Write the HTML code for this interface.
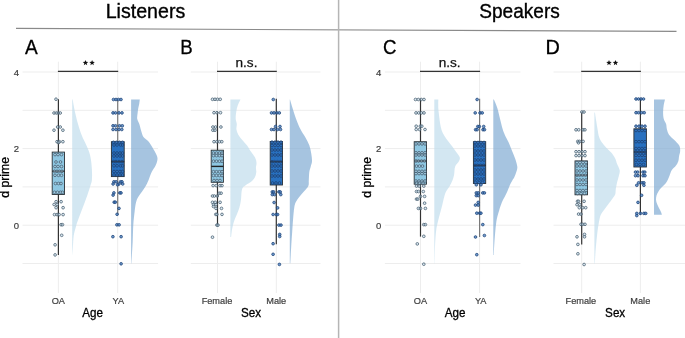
<!DOCTYPE html><html><head><meta charset="utf-8"><style>html,body{margin:0;padding:0;background:#fff;overflow:hidden;}svg{display:block;will-change:transform;}text{font-family:"Liberation Sans",sans-serif;}</style></head><body>
<svg width="685" height="338" viewBox="0 0 685 338">
<rect width="685" height="338" fill="#fff"/>
<line x1="22.5" x2="158.1" y1="72.0" y2="72.0" stroke="#ededed" stroke-width="1"/><line x1="22.5" x2="158.1" y1="110.3" y2="110.3" stroke="#ededed" stroke-width="1"/><line x1="22.5" x2="158.1" y1="148.6" y2="148.6" stroke="#ededed" stroke-width="1"/><line x1="22.5" x2="158.1" y1="186.9" y2="186.9" stroke="#ededed" stroke-width="1"/><line x1="22.5" x2="158.1" y1="225.2" y2="225.2" stroke="#ededed" stroke-width="1"/><line x1="22.5" x2="158.1" y1="263.5" y2="263.5" stroke="#ededed" stroke-width="1"/><line x1="58.4" x2="58.4" y1="61.7" y2="293" stroke="#ededed" stroke-width="1"/><line x1="117.7" x2="117.7" y1="61.7" y2="293" stroke="#ededed" stroke-width="1"/>
<line x1="190.8" x2="320.5" y1="72.0" y2="72.0" stroke="#ededed" stroke-width="1"/><line x1="190.8" x2="320.5" y1="110.3" y2="110.3" stroke="#ededed" stroke-width="1"/><line x1="190.8" x2="320.5" y1="148.6" y2="148.6" stroke="#ededed" stroke-width="1"/><line x1="190.8" x2="320.5" y1="186.9" y2="186.9" stroke="#ededed" stroke-width="1"/><line x1="190.8" x2="320.5" y1="225.2" y2="225.2" stroke="#ededed" stroke-width="1"/><line x1="190.8" x2="320.5" y1="263.5" y2="263.5" stroke="#ededed" stroke-width="1"/><line x1="217.5" x2="217.5" y1="61.7" y2="293" stroke="#ededed" stroke-width="1"/><line x1="276.3" x2="276.3" y1="61.7" y2="293" stroke="#ededed" stroke-width="1"/>
<line x1="384.9" x2="520.5" y1="72.0" y2="72.0" stroke="#ededed" stroke-width="1"/><line x1="384.9" x2="520.5" y1="110.3" y2="110.3" stroke="#ededed" stroke-width="1"/><line x1="384.9" x2="520.5" y1="148.6" y2="148.6" stroke="#ededed" stroke-width="1"/><line x1="384.9" x2="520.5" y1="186.9" y2="186.9" stroke="#ededed" stroke-width="1"/><line x1="384.9" x2="520.5" y1="225.2" y2="225.2" stroke="#ededed" stroke-width="1"/><line x1="384.9" x2="520.5" y1="263.5" y2="263.5" stroke="#ededed" stroke-width="1"/><line x1="420.5" x2="420.5" y1="61.7" y2="293" stroke="#ededed" stroke-width="1"/><line x1="479.6" x2="479.6" y1="61.7" y2="293" stroke="#ededed" stroke-width="1"/>
<line x1="553.5" x2="685" y1="72.0" y2="72.0" stroke="#ededed" stroke-width="1"/><line x1="553.5" x2="685" y1="110.3" y2="110.3" stroke="#ededed" stroke-width="1"/><line x1="553.5" x2="685" y1="148.6" y2="148.6" stroke="#ededed" stroke-width="1"/><line x1="553.5" x2="685" y1="186.9" y2="186.9" stroke="#ededed" stroke-width="1"/><line x1="553.5" x2="685" y1="225.2" y2="225.2" stroke="#ededed" stroke-width="1"/><line x1="553.5" x2="685" y1="263.5" y2="263.5" stroke="#ededed" stroke-width="1"/><line x1="581.7" x2="581.7" y1="61.7" y2="293" stroke="#ededed" stroke-width="1"/><line x1="640.4" x2="640.4" y1="61.7" y2="293" stroke="#ededed" stroke-width="1"/>
<path d="M72.20,99.50 L72.70,99.50 C72.88,100.58 73.37,103.70 73.80,106.00 C74.23,108.30 74.60,110.30 75.30,113.30 C76.00,116.30 76.97,120.43 78.00,124.00 C79.03,127.57 80.30,131.58 81.50,134.70 C82.70,137.82 84.00,140.03 85.20,142.70 C86.40,145.37 87.77,148.03 88.70,150.70 C89.63,153.37 90.27,155.60 90.80,158.70 C91.33,161.80 91.72,165.75 91.90,169.30 C92.08,172.85 92.17,177.22 91.90,180.00 C91.63,182.78 91.17,183.17 90.30,186.00 C89.43,188.83 87.98,193.33 86.70,197.00 C85.42,200.67 83.98,204.33 82.60,208.00 C81.22,211.67 79.55,215.77 78.40,219.00 C77.25,222.23 76.48,224.62 75.70,227.40 C74.92,230.18 74.17,232.48 73.70,235.70 C73.23,238.92 73.13,243.48 72.90,246.70 C72.67,249.92 72.40,253.62 72.30,255.00 L72.20,255.00Z" fill="#c0ddec" fill-opacity="0.7"/>
<path d="M131.10,99.60 L139.80,99.60 C139.70,100.33 139.45,102.60 139.20,104.00 C138.95,105.40 138.57,106.45 138.30,108.00 C138.03,109.55 137.78,111.52 137.60,113.30 C137.42,115.08 136.92,116.92 137.20,118.70 C137.48,120.48 138.58,121.78 139.30,124.00 C140.02,126.22 140.77,129.78 141.50,132.00 C142.23,134.22 142.57,135.75 143.70,137.30 C144.83,138.85 147.07,139.97 148.30,141.30 C149.53,142.63 149.87,143.30 151.10,145.30 C152.33,147.30 154.63,151.07 155.70,153.30 C156.77,155.53 157.50,156.70 157.50,158.70 C157.50,160.70 156.67,163.08 155.70,165.30 C154.73,167.52 152.92,169.47 151.70,172.00 C150.48,174.53 149.40,178.17 148.40,180.50 C147.40,182.83 146.75,184.15 145.70,186.00 C144.65,187.85 143.35,189.77 142.10,191.60 C140.85,193.43 139.22,195.17 138.20,197.00 C137.18,198.83 136.58,200.28 136.00,202.60 C135.42,204.92 135.15,207.22 134.70,210.90 C134.25,214.58 133.63,219.65 133.30,224.70 C132.97,229.75 132.93,236.15 132.70,241.20 C132.47,246.25 132.12,251.30 131.90,255.00 C131.68,258.70 131.48,262.00 131.40,263.40 L131.10,263.40Z" fill="#80abd3" fill-opacity="0.7"/>
<path d="M230.40,99.50 L240.50,99.50 C240.05,100.47 238.52,103.22 237.80,105.30 C237.08,107.38 236.55,109.77 236.20,112.00 C235.85,114.23 235.60,116.70 235.70,118.70 C235.80,120.70 236.68,122.23 236.80,124.00 C236.92,125.77 236.15,127.52 236.40,129.30 C236.65,131.08 237.32,132.92 238.30,134.70 C239.28,136.48 240.87,138.23 242.30,140.00 C243.73,141.77 245.57,143.52 246.90,145.30 C248.23,147.08 248.97,148.70 250.30,150.70 C251.63,152.70 253.87,155.30 254.90,157.30 C255.93,159.30 256.33,160.92 256.50,162.70 C256.67,164.48 255.93,166.45 255.90,168.00 C255.87,169.55 256.47,170.45 256.30,172.00 C256.13,173.55 255.67,175.75 254.90,177.30 C254.13,178.85 253.18,180.02 251.70,181.30 C250.22,182.58 247.47,183.98 246.00,185.00 C244.53,186.02 243.63,186.30 242.90,187.40 C242.17,188.50 241.92,189.53 241.60,191.60 C241.28,193.67 241.38,197.05 241.00,199.80 C240.62,202.55 240.03,205.57 239.30,208.10 C238.57,210.63 237.52,212.70 236.60,215.00 C235.68,217.30 234.58,219.37 233.80,221.90 C233.02,224.43 232.35,227.67 231.90,230.20 C231.45,232.73 231.23,235.95 231.10,237.10 L230.40,237.10Z" fill="#c0ddec" fill-opacity="0.7"/>
<path d="M289.80,99.50 L290.00,99.50 C290.42,100.92 291.50,104.80 292.50,108.00 C293.50,111.20 294.67,115.15 296.00,118.70 C297.33,122.25 298.95,126.20 300.50,129.30 C302.05,132.40 303.83,134.63 305.30,137.30 C306.77,139.97 308.32,142.63 309.30,145.30 C310.28,147.97 310.75,150.63 311.20,153.30 C311.65,155.97 312.08,159.07 312.00,161.30 C311.92,163.53 311.15,164.92 310.70,166.70 C310.25,168.48 309.62,169.70 309.30,172.00 C308.98,174.30 308.97,178.17 308.80,180.50 C308.63,182.83 309.12,184.15 308.30,186.00 C307.48,187.85 305.42,189.77 303.90,191.60 C302.38,193.43 300.58,195.17 299.20,197.00 C297.82,198.83 296.43,200.75 295.60,202.60 C294.77,204.45 294.62,205.35 294.20,208.10 C293.78,210.85 293.42,215.42 293.10,219.10 C292.78,222.78 292.62,225.60 292.30,230.20 C291.98,234.80 291.53,241.18 291.20,246.70 C290.87,252.22 290.45,260.53 290.30,263.30 L289.80,263.30Z" fill="#80abd3" fill-opacity="0.7"/>
<path d="M434.30,99.50 L438.30,99.50 C438.30,100.92 438.17,105.25 438.30,108.00 C438.43,110.75 438.78,113.33 439.10,116.00 C439.42,118.67 439.75,121.55 440.20,124.00 C440.65,126.45 441.08,128.70 441.80,130.70 C442.52,132.70 443.43,134.23 444.50,136.00 C445.57,137.77 446.87,139.52 448.20,141.30 C449.53,143.08 451.17,144.92 452.50,146.70 C453.83,148.48 455.00,150.23 456.20,152.00 C457.40,153.77 459.25,155.75 459.70,157.30 C460.15,158.85 459.67,159.73 458.90,161.30 C458.13,162.87 455.90,164.47 455.10,166.70 C454.30,168.93 454.55,172.40 454.10,174.70 C453.65,177.00 453.13,178.62 452.40,180.50 C451.67,182.38 450.75,184.15 449.70,186.00 C448.65,187.85 447.02,189.77 446.10,191.60 C445.18,193.43 444.85,194.72 444.20,197.00 C443.55,199.28 442.90,202.53 442.20,205.30 C441.50,208.07 440.73,210.83 440.00,213.60 C439.27,216.37 438.43,219.13 437.80,221.90 C437.17,224.67 436.65,226.52 436.20,230.20 C435.75,233.88 435.38,238.48 435.10,244.00 C434.82,249.52 434.60,260.08 434.50,263.30 L434.30,263.30Z" fill="#c0ddec" fill-opacity="0.7"/>
<path d="M493.30,99.50 L493.90,99.50 C494.47,100.92 496.28,104.80 497.30,108.00 C498.32,111.20 499.10,115.15 500.00,118.70 C500.90,122.25 501.82,126.42 502.70,129.30 C503.58,132.18 504.28,133.77 505.30,136.00 C506.32,138.23 507.68,140.25 508.80,142.70 C509.92,145.15 510.93,148.03 512.00,150.70 C513.07,153.37 514.32,156.03 515.20,158.70 C516.08,161.37 517.12,164.48 517.30,166.70 C517.48,168.92 516.80,170.23 516.30,172.00 C515.80,173.77 514.97,175.88 514.30,177.30 C513.63,178.72 513.10,179.05 512.30,180.50 C511.50,181.95 510.33,184.15 509.50,186.00 C508.67,187.85 508.12,189.77 507.30,191.60 C506.48,193.43 505.52,195.17 504.60,197.00 C503.68,198.83 502.73,200.28 501.80,202.60 C500.87,204.92 499.83,208.15 499.00,210.90 C498.17,213.65 497.40,215.88 496.80,219.10 C496.20,222.32 495.82,226.05 495.40,230.20 C494.98,234.35 494.57,239.87 494.30,244.00 C494.03,248.13 493.88,253.17 493.80,255.00 L493.30,255.00Z" fill="#80abd3" fill-opacity="0.7"/>
<path d="M594.40,112.50 L594.90,112.50 C595.12,113.92 595.77,118.25 596.20,121.00 C596.63,123.75 597.02,126.33 597.50,129.00 C597.98,131.67 598.38,134.78 599.10,137.00 C599.82,139.22 600.60,140.52 601.80,142.30 C603.00,144.08 604.65,145.92 606.30,147.70 C607.95,149.48 610.23,151.23 611.70,153.00 C613.17,154.77 614.22,156.52 615.10,158.30 C615.98,160.08 616.23,161.70 617.00,163.70 C617.77,165.70 619.38,168.30 619.70,170.30 C620.02,172.30 619.33,173.70 618.90,175.70 C618.47,177.70 617.62,180.08 617.10,182.30 C616.58,184.52 616.12,186.95 615.80,189.00 C615.48,191.05 615.77,192.98 615.20,194.60 C614.63,196.22 613.55,197.10 612.40,198.70 C611.25,200.30 609.67,202.37 608.30,204.20 C606.93,206.03 605.48,207.87 604.20,209.70 C602.92,211.53 601.52,212.90 600.60,215.20 C599.68,217.50 599.25,220.50 598.70,223.50 C598.15,226.50 597.77,229.28 597.30,233.20 C596.83,237.12 596.27,242.87 595.90,247.00 C595.53,251.13 595.28,255.25 595.10,258.00 C594.92,260.75 594.85,262.58 594.80,263.50 L594.40,263.50Z" fill="#c0ddec" fill-opacity="0.7"/>
<path d="M654.00,99.50 L665.00,99.50 C664.78,100.47 664.02,103.22 663.70,105.30 C663.38,107.38 663.10,109.77 663.10,112.00 C663.10,114.23 663.20,116.70 663.70,118.70 C664.20,120.70 665.57,122.23 666.10,124.00 C666.63,125.77 666.42,127.52 666.90,129.30 C667.38,131.08 667.77,132.92 669.00,134.70 C670.23,136.48 672.62,138.23 674.30,140.00 C675.98,141.77 678.12,143.52 679.10,145.30 C680.08,147.08 680.20,148.92 680.20,150.70 C680.20,152.48 679.42,154.23 679.10,156.00 C678.78,157.77 678.82,159.72 678.30,161.30 C677.78,162.88 677.10,164.00 676.00,165.50 C674.90,167.00 672.78,168.60 671.70,170.30 C670.62,172.00 670.25,173.92 669.50,175.70 C668.75,177.48 668.02,179.52 667.20,181.00 C666.38,182.48 665.63,183.42 664.60,184.60 C663.57,185.78 662.05,186.92 661.00,188.10 C659.95,189.28 659.03,190.52 658.30,191.70 C657.57,192.88 656.98,193.87 656.60,195.20 C656.22,196.53 655.92,198.22 656.00,199.70 C656.08,201.18 656.57,202.62 657.10,204.10 C657.63,205.58 658.55,207.27 659.20,208.60 C659.85,209.93 660.55,211.07 661.00,212.10 C661.45,213.13 661.75,214.35 661.90,214.80 L654.00,214.80Z" fill="#80abd3" fill-opacity="0.7"/>
<line x1="58.4" x2="58.4" y1="99.2" y2="254.9" stroke="#333" stroke-width="1.2"/>
<rect x="52.2" y="152.1" width="12.3" height="42.4" fill="#8ec7e2" stroke="#2a3035" stroke-width="0.9"/>
<line x1="52.2" x2="64.5" y1="171.3" y2="171.3" stroke="#222" stroke-width="1.4"/>
<line x1="117.7" x2="117.7" y1="98.8" y2="214.8" stroke="#7a7a7a" stroke-width="1.2"/>
<rect x="111.4" y="141.7" width="12.8" height="34.9" fill="#2870bf" stroke="#2a3035" stroke-width="0.9"/>
<line x1="111.4" x2="124.2" y1="161.6" y2="161.6" stroke="#222" stroke-width="1.4"/>
<line x1="217.5" x2="217.5" y1="112.0" y2="225.2" stroke="#333" stroke-width="1.2"/>
<rect x="211.2" y="150.2" width="12.2" height="32.1" fill="#8ec7e2" stroke="#2a3035" stroke-width="0.9"/>
<line x1="211.2" x2="223.4" y1="166.4" y2="166.4" stroke="#222" stroke-width="1.4"/>
<line x1="276.3" x2="276.3" y1="98.8" y2="244.3" stroke="#333" stroke-width="1.2"/>
<rect x="270.2" y="141.5" width="12.3" height="43.5" fill="#2870bf" stroke="#2a3035" stroke-width="0.9"/>
<line x1="270.2" x2="282.5" y1="161.7" y2="161.7" stroke="#222" stroke-width="1.4"/>
<line x1="420.5" x2="420.5" y1="98.8" y2="236.6" stroke="#333" stroke-width="1.2"/>
<rect x="414.2" y="141.7" width="12.3" height="42.5" fill="#8ec7e2" stroke="#2a3035" stroke-width="0.9"/>
<line x1="414.2" x2="426.5" y1="161.0" y2="161.0" stroke="#222" stroke-width="1.4"/>
<line x1="479.6" x2="479.6" y1="98.8" y2="237.0" stroke="#7a7a7a" stroke-width="1.2"/>
<rect x="473.4" y="141.7" width="12.3" height="41.8" fill="#2870bf" stroke="#2a3035" stroke-width="0.9"/>
<line x1="473.4" x2="485.7" y1="165.4" y2="165.4" stroke="#222" stroke-width="1.4"/>
<line x1="581.7" x2="581.7" y1="112.2" y2="244.6" stroke="#333" stroke-width="1.2"/>
<rect x="575.0" y="160.9" width="12.5" height="33.9" fill="#8ec7e2" stroke="#2a3035" stroke-width="0.9"/>
<line x1="575.0" x2="587.5" y1="175.2" y2="175.2" stroke="#222" stroke-width="1.4"/>
<line x1="640.4" x2="640.4" y1="98.8" y2="214.8" stroke="#333" stroke-width="1.2"/>
<rect x="633.9" y="128.8" width="12.5" height="38.2" fill="#2870bf" stroke="#2a3035" stroke-width="0.9"/>
<line x1="633.9" x2="646.4" y1="152.0" y2="152.0" stroke="#222" stroke-width="1.4"/>
<g fill="#b9d6e8" fill-opacity="0.5" stroke="#465c6e" stroke-width="0.75"><circle cx="56.0" cy="99.2" r="1.35"/><circle cx="54.0" cy="113" r="1.35"/><circle cx="56.3" cy="113" r="1.35"/><circle cx="58.3" cy="113" r="1.35"/><circle cx="60.2" cy="113" r="1.35"/><circle cx="57.6" cy="127" r="1.35"/><circle cx="60.2" cy="127" r="1.35"/><circle cx="54.0" cy="130.2" r="1.35"/><circle cx="62.9" cy="130.2" r="1.35"/><circle cx="57.0" cy="141.7" r="1.35"/><circle cx="59.4" cy="141.7" r="1.35"/><circle cx="62.9" cy="141.7" r="1.35"/><circle cx="58.5" cy="142.6" r="1.35"/><circle cx="55" cy="154.6" r="1.35"/><circle cx="58" cy="154.6" r="1.35"/><circle cx="61.5" cy="154.6" r="1.35"/><circle cx="56" cy="162" r="1.35"/><circle cx="60.5" cy="162" r="1.35"/><circle cx="55" cy="166.5" r="1.35"/><circle cx="58" cy="166.5" r="1.35"/><circle cx="61.5" cy="166.5" r="1.35"/><circle cx="54.5" cy="171.3" r="1.35"/><circle cx="57" cy="171.3" r="1.35"/><circle cx="59.5" cy="171.3" r="1.35"/><circle cx="62" cy="171.3" r="1.35"/><circle cx="55" cy="175.3" r="1.35"/><circle cx="58.5" cy="175.3" r="1.35"/><circle cx="61.5" cy="175.3" r="1.35"/><circle cx="55.5" cy="183.5" r="1.35"/><circle cx="58.5" cy="183.5" r="1.35"/><circle cx="61" cy="183.5" r="1.35"/><circle cx="54.5" cy="192.3" r="1.35"/><circle cx="57.5" cy="192.3" r="1.35"/><circle cx="60.5" cy="192.3" r="1.35"/><circle cx="62.5" cy="192.3" r="1.35"/><circle cx="56.1" cy="201.7" r="1.35"/><circle cx="61.1" cy="201.7" r="1.35"/><circle cx="54.1" cy="204.5" r="1.35"/><circle cx="57.1" cy="204.5" r="1.35"/><circle cx="56.1" cy="207.7" r="1.35"/><circle cx="63.1" cy="207.7" r="1.35"/><circle cx="54.5" cy="214.6" r="1.35"/><circle cx="57.1" cy="214.6" r="1.35"/><circle cx="59.1" cy="214.6" r="1.35"/><circle cx="63.1" cy="214.6" r="1.35"/><circle cx="61.1" cy="224.7" r="1.35"/><circle cx="62.5" cy="224.7" r="1.35"/><circle cx="61.7" cy="235.3" r="1.35"/><circle cx="55.1" cy="244.8" r="1.35"/><circle cx="55.1" cy="254.9" r="1.35"/></g>
<g fill="#3f78bd" fill-opacity="0.75" stroke="#1c4274" stroke-width="0.75"><circle cx="113.5" cy="99.5" r="1.35"/><circle cx="116" cy="99.5" r="1.35"/><circle cx="118.5" cy="99.5" r="1.35"/><circle cx="121" cy="99.5" r="1.35"/><circle cx="113" cy="112.9" r="1.35"/><circle cx="115.5" cy="112.9" r="1.35"/><circle cx="119" cy="112.9" r="1.35"/><circle cx="122" cy="112.9" r="1.35"/><circle cx="113" cy="125.8" r="1.35"/><circle cx="115.5" cy="125.8" r="1.35"/><circle cx="119.5" cy="125.8" r="1.35"/><circle cx="122.3" cy="125.8" r="1.35"/><circle cx="113" cy="129.5" r="1.35"/><circle cx="116" cy="129.5" r="1.35"/><circle cx="119" cy="129.5" r="1.35"/><circle cx="121.8" cy="129.5" r="1.35"/><circle cx="113.5" cy="142.3" r="1.35"/><circle cx="116.5" cy="142.3" r="1.35"/><circle cx="119.5" cy="142.3" r="1.35"/><circle cx="122.5" cy="142.3" r="1.35"/><circle cx="114" cy="145" r="1.35" fill-opacity="0.35"/><circle cx="117" cy="145" r="1.35" fill-opacity="0.35"/><circle cx="120.5" cy="145" r="1.35" fill-opacity="0.35"/><circle cx="122.5" cy="145" r="1.35" fill-opacity="0.35"/><circle cx="114" cy="153" r="1.35" fill-opacity="0.35"/><circle cx="117" cy="153" r="1.35" fill-opacity="0.35"/><circle cx="120" cy="153" r="1.35" fill-opacity="0.35"/><circle cx="122.5" cy="153" r="1.35" fill-opacity="0.35"/><circle cx="114" cy="156" r="1.35" fill-opacity="0.35"/><circle cx="117" cy="156" r="1.35" fill-opacity="0.35"/><circle cx="120" cy="156" r="1.35" fill-opacity="0.35"/><circle cx="122.5" cy="156" r="1.35" fill-opacity="0.35"/><circle cx="113.5" cy="161.6" r="1.35" fill-opacity="0.35"/><circle cx="116" cy="161.6" r="1.35" fill-opacity="0.35"/><circle cx="119" cy="161.6" r="1.35" fill-opacity="0.35"/><circle cx="122" cy="161.6" r="1.35" fill-opacity="0.35"/><circle cx="114" cy="165.8" r="1.35" fill-opacity="0.35"/><circle cx="117" cy="165.8" r="1.35" fill-opacity="0.35"/><circle cx="120.5" cy="165.8" r="1.35" fill-opacity="0.35"/><circle cx="122.5" cy="165.8" r="1.35" fill-opacity="0.35"/><circle cx="114" cy="171.5" r="1.35" fill-opacity="0.35"/><circle cx="117" cy="171.5" r="1.35" fill-opacity="0.35"/><circle cx="120" cy="171.5" r="1.35" fill-opacity="0.35"/><circle cx="122.5" cy="171.5" r="1.35" fill-opacity="0.35"/><circle cx="114" cy="175" r="1.35" fill-opacity="0.35"/><circle cx="117" cy="175" r="1.35" fill-opacity="0.35"/><circle cx="120" cy="175" r="1.35" fill-opacity="0.35"/><circle cx="122.5" cy="175" r="1.35" fill-opacity="0.35"/><circle cx="113.9" cy="181.8" r="1.35"/><circle cx="116.1" cy="181.8" r="1.35"/><circle cx="120.5" cy="181.8" r="1.35"/><circle cx="122" cy="181.8" r="1.35"/><circle cx="113.1" cy="184" r="1.35"/><circle cx="119" cy="184" r="1.35"/><circle cx="122.7" cy="184" r="1.35"/><circle cx="117.5" cy="184.8" r="1.35"/><circle cx="113.9" cy="192.9" r="1.35"/><circle cx="119.8" cy="192.9" r="1.35"/><circle cx="121" cy="192.9" r="1.35"/><circle cx="113.1" cy="195.1" r="1.35"/><circle cx="114.2" cy="202.2" r="1.35"/><circle cx="115.3" cy="202.2" r="1.35"/><circle cx="119" cy="208.4" r="1.35"/><circle cx="117.1" cy="214.3" r="1.35"/><circle cx="116.9" cy="224.8" r="1.35"/><circle cx="119.1" cy="224.8" r="1.35"/><circle cx="112.9" cy="236.7" r="1.35"/><circle cx="121.1" cy="236.7" r="1.35"/><circle cx="121.1" cy="263.8" r="1.35"/></g>
<g fill="#b9d6e8" fill-opacity="0.5" stroke="#465c6e" stroke-width="0.75"><circle cx="212.5" cy="99.3" r="1.35"/><circle cx="215" cy="99.3" r="1.35"/><circle cx="217.5" cy="99.3" r="1.35"/><circle cx="220.2" cy="99.3" r="1.35"/><circle cx="214" cy="112.7" r="1.35"/><circle cx="217" cy="112.7" r="1.35"/><circle cx="220.5" cy="112.7" r="1.35"/><circle cx="212.9" cy="127" r="1.35"/><circle cx="215.6" cy="127" r="1.35"/><circle cx="220.9" cy="127" r="1.35"/><circle cx="212.9" cy="130.2" r="1.35"/><circle cx="215" cy="130.2" r="1.35"/><circle cx="214" cy="141.7" r="1.35"/><circle cx="216.8" cy="141.7" r="1.35"/><circle cx="219.5" cy="141.7" r="1.35"/><circle cx="221.8" cy="141.7" r="1.35"/><circle cx="213.5" cy="153.1" r="1.35"/><circle cx="216.5" cy="153.1" r="1.35"/><circle cx="219.5" cy="153.1" r="1.35"/><circle cx="222" cy="153.1" r="1.35"/><circle cx="213.5" cy="155.6" r="1.35"/><circle cx="216.5" cy="155.6" r="1.35"/><circle cx="219.5" cy="155.6" r="1.35"/><circle cx="222" cy="155.6" r="1.35"/><circle cx="213.5" cy="161.2" r="1.35"/><circle cx="216.5" cy="161.2" r="1.35"/><circle cx="219.5" cy="161.2" r="1.35"/><circle cx="222" cy="161.2" r="1.35"/><circle cx="213.5" cy="171.7" r="1.35"/><circle cx="216.5" cy="171.7" r="1.35"/><circle cx="219.5" cy="171.7" r="1.35"/><circle cx="222" cy="171.7" r="1.35"/><circle cx="213.5" cy="175.5" r="1.35"/><circle cx="216.5" cy="175.5" r="1.35"/><circle cx="219.5" cy="175.5" r="1.35"/><circle cx="222" cy="175.5" r="1.35"/><circle cx="214" cy="180.5" r="1.35"/><circle cx="217" cy="180.5" r="1.35"/><circle cx="220" cy="180.5" r="1.35"/><circle cx="213.1" cy="185.6" r="1.35"/><circle cx="216.3" cy="185.6" r="1.35"/><circle cx="220.1" cy="185.6" r="1.35"/><circle cx="222" cy="185.6" r="1.35"/><circle cx="219.2" cy="193.2" r="1.35"/><circle cx="221.1" cy="193.2" r="1.35"/><circle cx="212.5" cy="196" r="1.35"/><circle cx="214.4" cy="196" r="1.35"/><circle cx="217.3" cy="196" r="1.35"/><circle cx="212.5" cy="202.3" r="1.35"/><circle cx="215.2" cy="202.3" r="1.35"/><circle cx="220.1" cy="202.3" r="1.35"/><circle cx="213.5" cy="204.6" r="1.35"/><circle cx="216" cy="204.6" r="1.35"/><circle cx="213.5" cy="206.5" r="1.35"/><circle cx="216" cy="208.4" r="1.35"/><circle cx="221.5" cy="208.4" r="1.35"/><circle cx="215.8" cy="214.4" r="1.35"/><circle cx="216.9" cy="214.4" r="1.35"/><circle cx="222" cy="214.4" r="1.35"/><circle cx="216.9" cy="225.1" r="1.35"/><circle cx="218" cy="225.1" r="1.35"/><circle cx="212.5" cy="237.2" r="1.35"/></g>
<g fill="#3f78bd" fill-opacity="0.75" stroke="#1c4274" stroke-width="0.75"><circle cx="273.3" cy="99.5" r="1.35"/><circle cx="271.5" cy="112.9" r="1.35"/><circle cx="274" cy="112.9" r="1.35"/><circle cx="276.8" cy="112.9" r="1.35"/><circle cx="279.3" cy="112.9" r="1.35"/><circle cx="275.6" cy="126.5" r="1.35"/><circle cx="280" cy="126.5" r="1.35"/><circle cx="271.5" cy="129.5" r="1.35"/><circle cx="274" cy="129.5" r="1.35"/><circle cx="277.5" cy="129.5" r="1.35"/><circle cx="280.5" cy="129.5" r="1.35"/><circle cx="272" cy="142.2" r="1.35"/><circle cx="275" cy="142.2" r="1.35"/><circle cx="278" cy="142.2" r="1.35"/><circle cx="281" cy="142.2" r="1.35"/><circle cx="272" cy="145.5" r="1.35" fill-opacity="0.35"/><circle cx="275" cy="145.5" r="1.35" fill-opacity="0.35"/><circle cx="278" cy="145.5" r="1.35" fill-opacity="0.35"/><circle cx="281" cy="145.5" r="1.35" fill-opacity="0.35"/><circle cx="272" cy="150" r="1.35" fill-opacity="0.35"/><circle cx="275" cy="150" r="1.35" fill-opacity="0.35"/><circle cx="278" cy="150" r="1.35" fill-opacity="0.35"/><circle cx="281" cy="150" r="1.35" fill-opacity="0.35"/><circle cx="272" cy="155" r="1.35" fill-opacity="0.35"/><circle cx="275" cy="155" r="1.35" fill-opacity="0.35"/><circle cx="278" cy="155" r="1.35" fill-opacity="0.35"/><circle cx="281" cy="155" r="1.35" fill-opacity="0.35"/><circle cx="272" cy="161.7" r="1.35" fill-opacity="0.35"/><circle cx="274.5" cy="161.7" r="1.35" fill-opacity="0.35"/><circle cx="277.5" cy="161.7" r="1.35" fill-opacity="0.35"/><circle cx="280.5" cy="161.7" r="1.35" fill-opacity="0.35"/><circle cx="272" cy="166" r="1.35" fill-opacity="0.35"/><circle cx="275" cy="166" r="1.35" fill-opacity="0.35"/><circle cx="278" cy="166" r="1.35" fill-opacity="0.35"/><circle cx="281" cy="166" r="1.35" fill-opacity="0.35"/><circle cx="272" cy="171" r="1.35" fill-opacity="0.35"/><circle cx="275" cy="171" r="1.35" fill-opacity="0.35"/><circle cx="278" cy="171" r="1.35" fill-opacity="0.35"/><circle cx="281" cy="171" r="1.35" fill-opacity="0.35"/><circle cx="272" cy="176" r="1.35" fill-opacity="0.35"/><circle cx="275" cy="176" r="1.35" fill-opacity="0.35"/><circle cx="278" cy="176" r="1.35" fill-opacity="0.35"/><circle cx="281" cy="176" r="1.35" fill-opacity="0.35"/><circle cx="272.5" cy="183" r="1.35" fill-opacity="0.35"/><circle cx="276" cy="183" r="1.35" fill-opacity="0.35"/><circle cx="279.5" cy="183" r="1.35" fill-opacity="0.35"/><circle cx="272.3" cy="191.9" r="1.35"/><circle cx="273.6" cy="191.9" r="1.35"/><circle cx="278.9" cy="191.9" r="1.35"/><circle cx="280.2" cy="191.9" r="1.35"/><circle cx="272.3" cy="194.6" r="1.35"/><circle cx="274.5" cy="194.6" r="1.35"/><circle cx="280.8" cy="194.6" r="1.35"/><circle cx="274.1" cy="202.5" r="1.35"/><circle cx="277.6" cy="207.9" r="1.35"/><circle cx="273.1" cy="214.5" r="1.35"/><circle cx="276.3" cy="214.5" r="1.35"/><circle cx="277.6" cy="214.5" r="1.35"/><circle cx="278.9" cy="225.1" r="1.35"/><circle cx="281" cy="225.1" r="1.35"/><circle cx="279.7" cy="234.4" r="1.35"/><circle cx="279.7" cy="236.5" r="1.35"/><circle cx="273.1" cy="243.7" r="1.35"/><circle cx="273.1" cy="254.3" r="1.35"/><circle cx="279.4" cy="264.4" r="1.35"/></g>
<g fill="#b9d6e8" fill-opacity="0.5" stroke="#465c6e" stroke-width="0.75"><circle cx="415.5" cy="99.5" r="1.35"/><circle cx="418.3" cy="99.5" r="1.35"/><circle cx="421.2" cy="99.5" r="1.35"/><circle cx="424" cy="99.5" r="1.35"/><circle cx="416" cy="112.9" r="1.35"/><circle cx="418.7" cy="112.9" r="1.35"/><circle cx="421.4" cy="112.9" r="1.35"/><circle cx="424" cy="112.9" r="1.35"/><circle cx="416.2" cy="126.2" r="1.35"/><circle cx="420.3" cy="126.2" r="1.35"/><circle cx="421.8" cy="126.2" r="1.35"/><circle cx="416.2" cy="129.5" r="1.35"/><circle cx="419.6" cy="129.5" r="1.35"/><circle cx="425" cy="129.5" r="1.35"/><circle cx="416" cy="143.9" r="1.35"/><circle cx="419" cy="143.9" r="1.35"/><circle cx="422" cy="143.9" r="1.35"/><circle cx="425" cy="143.9" r="1.35"/><circle cx="416" cy="152.8" r="1.35"/><circle cx="419" cy="152.8" r="1.35"/><circle cx="422" cy="152.8" r="1.35"/><circle cx="425" cy="152.8" r="1.35"/><circle cx="416" cy="155" r="1.35"/><circle cx="419" cy="155" r="1.35"/><circle cx="422" cy="155" r="1.35"/><circle cx="425" cy="155" r="1.35"/><circle cx="416" cy="161" r="1.35"/><circle cx="418.5" cy="161" r="1.35"/><circle cx="421.5" cy="161" r="1.35"/><circle cx="424.5" cy="161" r="1.35"/><circle cx="416.5" cy="166.1" r="1.35"/><circle cx="419.5" cy="166.1" r="1.35"/><circle cx="422.5" cy="166.1" r="1.35"/><circle cx="416" cy="171.3" r="1.35"/><circle cx="419" cy="171.3" r="1.35"/><circle cx="422" cy="171.3" r="1.35"/><circle cx="425" cy="171.3" r="1.35"/><circle cx="416" cy="173.6" r="1.35"/><circle cx="419" cy="173.6" r="1.35"/><circle cx="422" cy="173.6" r="1.35"/><circle cx="425" cy="173.6" r="1.35"/><circle cx="416" cy="181" r="1.35"/><circle cx="419" cy="181" r="1.35"/><circle cx="422" cy="181" r="1.35"/><circle cx="425" cy="181" r="1.35"/><circle cx="416.5" cy="183.2" r="1.35"/><circle cx="419.5" cy="183.2" r="1.35"/><circle cx="423" cy="183.2" r="1.35"/><circle cx="416.5" cy="186.1" r="1.35"/><circle cx="419.2" cy="186.1" r="1.35"/><circle cx="423.8" cy="186.1" r="1.35"/><circle cx="416.5" cy="191.5" r="1.35"/><circle cx="418.4" cy="191.5" r="1.35"/><circle cx="423.3" cy="191.5" r="1.35"/><circle cx="420.5" cy="196.4" r="1.35"/><circle cx="424.6" cy="196.4" r="1.35"/><circle cx="416.5" cy="199.1" r="1.35"/><circle cx="417.8" cy="199.1" r="1.35"/><circle cx="424.6" cy="203.2" r="1.35"/><circle cx="418.4" cy="208.4" r="1.35"/><circle cx="420.5" cy="208.4" r="1.35"/><circle cx="425.4" cy="208.4" r="1.35"/><circle cx="423.8" cy="224.6" r="1.35"/><circle cx="425.4" cy="224.6" r="1.35"/><circle cx="423.8" cy="236.3" r="1.35"/><circle cx="417.3" cy="243.9" r="1.35"/><circle cx="423.8" cy="264.2" r="1.35"/></g>
<g fill="#3f78bd" fill-opacity="0.75" stroke="#1c4274" stroke-width="0.75"><circle cx="477.1" cy="99.5" r="1.35"/><circle cx="475.2" cy="112.9" r="1.35"/><circle cx="480" cy="112.9" r="1.35"/><circle cx="482.2" cy="112.9" r="1.35"/><circle cx="477.8" cy="126.5" r="1.35"/><circle cx="479.3" cy="126.5" r="1.35"/><circle cx="483.7" cy="126.5" r="1.35"/><circle cx="475.6" cy="129.7" r="1.35"/><circle cx="477.1" cy="129.7" r="1.35"/><circle cx="483" cy="129.7" r="1.35"/><circle cx="484.5" cy="129.7" r="1.35"/><circle cx="475" cy="142.5" r="1.35"/><circle cx="478" cy="142.5" r="1.35"/><circle cx="481" cy="142.5" r="1.35"/><circle cx="484" cy="142.5" r="1.35"/><circle cx="475" cy="146" r="1.35" fill-opacity="0.35"/><circle cx="478" cy="146" r="1.35" fill-opacity="0.35"/><circle cx="481" cy="146" r="1.35" fill-opacity="0.35"/><circle cx="484" cy="146" r="1.35" fill-opacity="0.35"/><circle cx="475" cy="151" r="1.35" fill-opacity="0.35"/><circle cx="478" cy="151" r="1.35" fill-opacity="0.35"/><circle cx="481" cy="151" r="1.35" fill-opacity="0.35"/><circle cx="484" cy="151" r="1.35" fill-opacity="0.35"/><circle cx="475" cy="155" r="1.35" fill-opacity="0.35"/><circle cx="478" cy="155" r="1.35" fill-opacity="0.35"/><circle cx="481" cy="155" r="1.35" fill-opacity="0.35"/><circle cx="484" cy="155" r="1.35" fill-opacity="0.35"/><circle cx="475" cy="160" r="1.35" fill-opacity="0.35"/><circle cx="478" cy="160" r="1.35" fill-opacity="0.35"/><circle cx="481" cy="160" r="1.35" fill-opacity="0.35"/><circle cx="484" cy="160" r="1.35" fill-opacity="0.35"/><circle cx="475" cy="165.4" r="1.35" fill-opacity="0.35"/><circle cx="477.5" cy="165.4" r="1.35" fill-opacity="0.35"/><circle cx="480.5" cy="165.4" r="1.35" fill-opacity="0.35"/><circle cx="483.5" cy="165.4" r="1.35" fill-opacity="0.35"/><circle cx="475" cy="170" r="1.35" fill-opacity="0.35"/><circle cx="478" cy="170" r="1.35" fill-opacity="0.35"/><circle cx="481" cy="170" r="1.35" fill-opacity="0.35"/><circle cx="484" cy="170" r="1.35" fill-opacity="0.35"/><circle cx="475" cy="174" r="1.35" fill-opacity="0.35"/><circle cx="478" cy="174" r="1.35" fill-opacity="0.35"/><circle cx="481" cy="174" r="1.35" fill-opacity="0.35"/><circle cx="484" cy="174" r="1.35" fill-opacity="0.35"/><circle cx="475" cy="179" r="1.35" fill-opacity="0.35"/><circle cx="478" cy="179" r="1.35" fill-opacity="0.35"/><circle cx="481" cy="179" r="1.35" fill-opacity="0.35"/><circle cx="484" cy="179" r="1.35" fill-opacity="0.35"/><circle cx="475.5" cy="182.5" r="1.35"/><circle cx="479" cy="182.5" r="1.35"/><circle cx="482.5" cy="182.5" r="1.35"/><circle cx="476.3" cy="184.8" r="1.35"/><circle cx="480.9" cy="184.8" r="1.35"/><circle cx="476.3" cy="192.9" r="1.35"/><circle cx="478.2" cy="192.9" r="1.35"/><circle cx="482.8" cy="192.9" r="1.35"/><circle cx="484.4" cy="192.9" r="1.35"/><circle cx="476.3" cy="195.6" r="1.35"/><circle cx="478.2" cy="195.6" r="1.35"/><circle cx="478.2" cy="202.4" r="1.35"/><circle cx="475.5" cy="205.1" r="1.35"/><circle cx="478.2" cy="205.1" r="1.35"/><circle cx="476.8" cy="213.2" r="1.35"/><circle cx="479.6" cy="213.2" r="1.35"/><circle cx="480.9" cy="213.2" r="1.35"/><circle cx="482.8" cy="224.6" r="1.35"/><circle cx="484.4" cy="235.5" r="1.35"/><circle cx="475.5" cy="237" r="1.35"/><circle cx="476.8" cy="254.7" r="1.35"/></g>
<g fill="#b9d6e8" fill-opacity="0.5" stroke="#465c6e" stroke-width="0.75"><circle cx="581.9" cy="112" r="1.35"/><circle cx="584" cy="112" r="1.35"/><circle cx="576" cy="129.8" r="1.35"/><circle cx="578.7" cy="129.8" r="1.35"/><circle cx="583.1" cy="129.8" r="1.35"/><circle cx="584.9" cy="129.8" r="1.35"/><circle cx="577.8" cy="141.4" r="1.35"/><circle cx="579.6" cy="141.4" r="1.35"/><circle cx="583.1" cy="141.4" r="1.35"/><circle cx="578.5" cy="142.8" r="1.35"/><circle cx="576" cy="151.7" r="1.35"/><circle cx="579" cy="151.7" r="1.35"/><circle cx="582" cy="151.7" r="1.35"/><circle cx="585" cy="151.7" r="1.35"/><circle cx="576" cy="155.6" r="1.35"/><circle cx="579" cy="155.6" r="1.35"/><circle cx="582" cy="155.6" r="1.35"/><circle cx="585" cy="155.6" r="1.35"/><circle cx="577" cy="162.5" r="1.35"/><circle cx="580" cy="162.5" r="1.35"/><circle cx="583" cy="162.5" r="1.35"/><circle cx="586" cy="162.5" r="1.35"/><circle cx="577" cy="166" r="1.35"/><circle cx="580" cy="166" r="1.35"/><circle cx="583" cy="166" r="1.35"/><circle cx="586" cy="166" r="1.35"/><circle cx="577" cy="171" r="1.35"/><circle cx="580" cy="171" r="1.35"/><circle cx="583" cy="171" r="1.35"/><circle cx="586" cy="171" r="1.35"/><circle cx="577" cy="175.2" r="1.35"/><circle cx="579.5" cy="175.2" r="1.35"/><circle cx="582.5" cy="175.2" r="1.35"/><circle cx="585.5" cy="175.2" r="1.35"/><circle cx="577" cy="180" r="1.35"/><circle cx="580" cy="180" r="1.35"/><circle cx="583" cy="180" r="1.35"/><circle cx="586" cy="180" r="1.35"/><circle cx="577" cy="184.5" r="1.35"/><circle cx="580" cy="184.5" r="1.35"/><circle cx="583" cy="184.5" r="1.35"/><circle cx="586" cy="184.5" r="1.35"/><circle cx="577" cy="190.5" r="1.35"/><circle cx="580" cy="190.5" r="1.35"/><circle cx="583" cy="190.5" r="1.35"/><circle cx="586" cy="190.5" r="1.35"/><circle cx="577.5" cy="193.5" r="1.35"/><circle cx="581" cy="193.5" r="1.35"/><circle cx="584.5" cy="193.5" r="1.35"/><circle cx="577.5" cy="201.3" r="1.35"/><circle cx="578.6" cy="201.3" r="1.35"/><circle cx="584.1" cy="201.3" r="1.35"/><circle cx="577" cy="204.7" r="1.35"/><circle cx="579.8" cy="204.7" r="1.35"/><circle cx="579.3" cy="207.7" r="1.35"/><circle cx="582.7" cy="207.7" r="1.35"/><circle cx="585.7" cy="207.7" r="1.35"/><circle cx="578.6" cy="214.1" r="1.35"/><circle cx="581" cy="214.1" r="1.35"/><circle cx="581" cy="224.3" r="1.35"/><circle cx="582.7" cy="224.3" r="1.35"/><circle cx="585" cy="224.3" r="1.35"/><circle cx="584.5" cy="234.4" r="1.35"/><circle cx="577" cy="236.8" r="1.35"/><circle cx="584.5" cy="236.8" r="1.35"/><circle cx="577.9" cy="244.4" r="1.35"/><circle cx="577.9" cy="253.8" r="1.35"/><circle cx="584.1" cy="264.5" r="1.35"/></g>
<g fill="#3f78bd" fill-opacity="0.75" stroke="#1c4274" stroke-width="0.75"><circle cx="636" cy="99" r="1.35"/><circle cx="638.5" cy="99" r="1.35"/><circle cx="641" cy="99" r="1.35"/><circle cx="643.5" cy="99" r="1.35"/><circle cx="636" cy="112.7" r="1.35"/><circle cx="638.5" cy="112.7" r="1.35"/><circle cx="641.5" cy="112.7" r="1.35"/><circle cx="644.2" cy="112.7" r="1.35"/><circle cx="636" cy="126.2" r="1.35"/><circle cx="639" cy="126.2" r="1.35"/><circle cx="642" cy="126.2" r="1.35"/><circle cx="645" cy="126.2" r="1.35"/><circle cx="636" cy="130.5" r="1.35" fill-opacity="0.35"/><circle cx="639" cy="130.5" r="1.35" fill-opacity="0.35"/><circle cx="642" cy="130.5" r="1.35" fill-opacity="0.35"/><circle cx="645" cy="130.5" r="1.35" fill-opacity="0.35"/><circle cx="636" cy="141.7" r="1.35" fill-opacity="0.35"/><circle cx="639" cy="141.7" r="1.35" fill-opacity="0.35"/><circle cx="642" cy="141.7" r="1.35" fill-opacity="0.35"/><circle cx="645" cy="141.7" r="1.35" fill-opacity="0.35"/><circle cx="636" cy="148.5" r="1.35" fill-opacity="0.35"/><circle cx="639" cy="148.5" r="1.35" fill-opacity="0.35"/><circle cx="642" cy="148.5" r="1.35" fill-opacity="0.35"/><circle cx="645" cy="148.5" r="1.35" fill-opacity="0.35"/><circle cx="636" cy="152" r="1.35" fill-opacity="0.35"/><circle cx="639" cy="152" r="1.35" fill-opacity="0.35"/><circle cx="642" cy="152" r="1.35" fill-opacity="0.35"/><circle cx="645" cy="152" r="1.35" fill-opacity="0.35"/><circle cx="636" cy="155.4" r="1.35" fill-opacity="0.35"/><circle cx="639" cy="155.4" r="1.35" fill-opacity="0.35"/><circle cx="642" cy="155.4" r="1.35" fill-opacity="0.35"/><circle cx="645" cy="155.4" r="1.35" fill-opacity="0.35"/><circle cx="636" cy="160.2" r="1.35" fill-opacity="0.35"/><circle cx="639" cy="160.2" r="1.35" fill-opacity="0.35"/><circle cx="642" cy="160.2" r="1.35" fill-opacity="0.35"/><circle cx="645" cy="160.2" r="1.35" fill-opacity="0.35"/><circle cx="636.5" cy="164.5" r="1.35" fill-opacity="0.35"/><circle cx="640" cy="164.5" r="1.35" fill-opacity="0.35"/><circle cx="643.5" cy="164.5" r="1.35" fill-opacity="0.35"/><circle cx="635.5" cy="172.1" r="1.35"/><circle cx="637.7" cy="172.1" r="1.35"/><circle cx="643" cy="172.1" r="1.35"/><circle cx="644.8" cy="172.1" r="1.35"/><circle cx="635.5" cy="175.7" r="1.35"/><circle cx="638" cy="175.7" r="1.35"/><circle cx="643" cy="175.7" r="1.35"/><circle cx="645" cy="175.7" r="1.35"/><circle cx="638.6" cy="182.8" r="1.35"/><circle cx="642.1" cy="182.8" r="1.35"/><circle cx="643.9" cy="182.8" r="1.35"/><circle cx="636.8" cy="185.3" r="1.35"/><circle cx="643.9" cy="185.3" r="1.35"/><circle cx="641.6" cy="195.3" r="1.35"/><circle cx="638" cy="202.4" r="1.35"/><circle cx="636.8" cy="213.4" r="1.35"/><circle cx="640.4" cy="213.4" r="1.35"/><circle cx="643.9" cy="213.4" r="1.35"/><circle cx="645.7" cy="213.4" r="1.35"/><circle cx="636.8" cy="215.6" r="1.35"/></g>
<text transform="translate(25,53.7) scale(0.94,1)" font-size="20.3" fill="#000" stroke="#000" stroke-width="0.3">A</text>
<line x1="57.9" x2="118.2" y1="71.4" y2="71.4" stroke="#333" stroke-width="1.3"/>
<path d="M85.50,59.90 L86.23,61.79 L88.26,61.90 L86.69,63.19 L87.20,65.15 L85.50,64.05 L83.80,65.15 L84.31,63.19 L82.74,61.90 L84.77,61.79Z" fill="#111"/>
<path d="M92.10,59.90 L92.83,61.79 L94.86,61.90 L93.29,63.19 L93.80,65.15 L92.10,64.05 L90.40,65.15 L90.91,63.19 L89.34,61.90 L91.37,61.79Z" fill="#111"/>
<text x="19.0" y="75.8" font-size="9.5" text-anchor="end" fill="#3d3d3d" stroke="#3d3d3d" stroke-width="0.2">4</text>
<text x="19.0" y="152.4" font-size="9.5" text-anchor="end" fill="#3d3d3d" stroke="#3d3d3d" stroke-width="0.2">2</text>
<text x="19.0" y="229.0" font-size="9.5" text-anchor="end" fill="#3d3d3d" stroke="#3d3d3d" stroke-width="0.2">0</text>
<text transform="translate(51.66,304.0) scale(0.96,1)" font-size="9.6" fill="#3d3d3d" stroke="#3d3d3d" stroke-width="0.2">OA</text>
<text transform="translate(112.50,304.0) scale(0.96,1)" font-size="9.6" fill="#3d3d3d" stroke="#3d3d3d" stroke-width="0.2">YA</text>
<text transform="translate(180.3,53.7) scale(0.92,1)" font-size="20.3" fill="#000" stroke="#000" stroke-width="0.3">B</text>
<line x1="217.0" x2="276.8" y1="71.4" y2="71.4" stroke="#333" stroke-width="1.3"/>
<text x="246.5" y="66.9" font-size="13.6" text-anchor="middle" fill="#111" stroke="#111" stroke-width="0.25">n.s.</text>
<text transform="translate(201.64,304.0) scale(0.96,1)" font-size="9.6" fill="#3d3d3d" stroke="#3d3d3d" stroke-width="0.2">Female</text>
<text transform="translate(266.24,304.0) scale(0.96,1)" font-size="9.6" fill="#3d3d3d" stroke="#3d3d3d" stroke-width="0.2">Male</text>
<text transform="translate(383.0,53.7) scale(0.92,1)" font-size="20.3" fill="#000" stroke="#000" stroke-width="0.3">C</text>
<line x1="420.0" x2="480.1" y1="71.4" y2="71.4" stroke="#333" stroke-width="1.3"/>
<text x="449.7" y="66.9" font-size="13.6" text-anchor="middle" fill="#111" stroke="#111" stroke-width="0.25">n.s.</text>
<text x="381.4" y="75.8" font-size="9.5" text-anchor="end" fill="#3d3d3d" stroke="#3d3d3d" stroke-width="0.2">4</text>
<text x="381.4" y="152.4" font-size="9.5" text-anchor="end" fill="#3d3d3d" stroke="#3d3d3d" stroke-width="0.2">2</text>
<text x="381.4" y="229.0" font-size="9.5" text-anchor="end" fill="#3d3d3d" stroke="#3d3d3d" stroke-width="0.2">0</text>
<text transform="translate(413.86,304.0) scale(0.96,1)" font-size="9.6" fill="#3d3d3d" stroke="#3d3d3d" stroke-width="0.2">OA</text>
<text transform="translate(474.90,304.0) scale(0.96,1)" font-size="9.6" fill="#3d3d3d" stroke="#3d3d3d" stroke-width="0.2">YA</text>
<text transform="translate(545.6,53.7) scale(0.98,1)" font-size="20.3" fill="#000" stroke="#000" stroke-width="0.3">D</text>
<line x1="581.2" x2="640.9" y1="71.4" y2="71.4" stroke="#333" stroke-width="1.3"/>
<path d="M609.00,59.90 L609.73,61.79 L611.76,61.90 L610.19,63.19 L610.70,65.15 L609.00,64.05 L607.30,65.15 L607.81,63.19 L606.24,61.90 L608.27,61.79Z" fill="#111"/>
<path d="M615.50,59.90 L616.23,61.79 L618.26,61.90 L616.69,63.19 L617.20,65.15 L615.50,64.05 L613.80,65.15 L614.31,63.19 L612.74,61.90 L614.77,61.79Z" fill="#111"/>
<text transform="translate(565.54,304.0) scale(0.96,1)" font-size="9.6" fill="#3d3d3d" stroke="#3d3d3d" stroke-width="0.2">Female</text>
<text transform="translate(630.34,304.0) scale(0.96,1)" font-size="9.6" fill="#3d3d3d" stroke="#3d3d3d" stroke-width="0.2">Male</text>
<text transform="translate(82.33,316.8) scale(0.955,1)" font-size="12.2" fill="#000" stroke="#000" stroke-width="0.3">Age</text>
<text transform="translate(240.92,316.8) scale(0.955,1)" font-size="12.2" fill="#000" stroke="#000" stroke-width="0.3">Sex</text>
<text transform="translate(444.73,316.8) scale(0.955,1)" font-size="12.2" fill="#000" stroke="#000" stroke-width="0.3">Age</text>
<text transform="translate(605.12,316.8) scale(0.955,1)" font-size="12.2" fill="#000" stroke="#000" stroke-width="0.3">Sex</text>
<text transform="translate(9.2,177.4) rotate(-90)" font-size="12.2" text-anchor="middle" fill="#000" stroke="#000" stroke-width="0.3">d prime</text>
<text transform="translate(371.1,177.4) rotate(-90)" font-size="12.2" text-anchor="middle" fill="#000" stroke="#000" stroke-width="0.3">d prime</text>
<text transform="translate(105.69,17.6) scale(0.98,1)" font-size="20" fill="#000" stroke="#000" stroke-width="0.35">Listeners</text>
<text transform="translate(479.23,17.8) scale(0.954,1)" font-size="20" fill="#000" stroke="#000" stroke-width="0.35">Speakers</text>
<line x1="16" y1="28.4" x2="676.5" y2="31.4" stroke="#8a8a8a" stroke-width="1.2"/>
<line x1="338.6" y1="0" x2="338.6" y2="338" stroke="#b5b5b5" stroke-width="1.5"/>
</svg></body></html>
